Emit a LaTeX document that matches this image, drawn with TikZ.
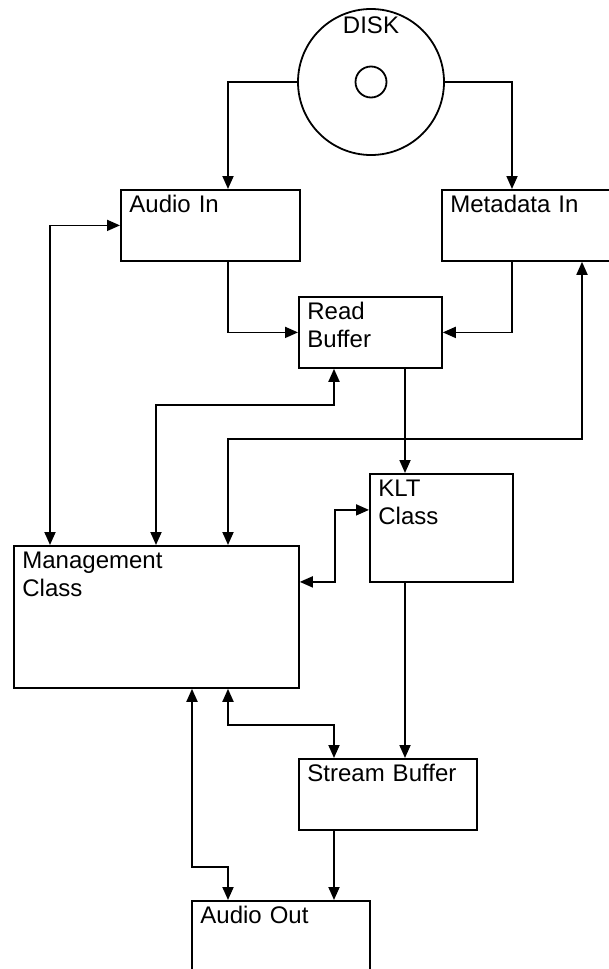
\documentclass[tikz,border=0pt]{standalone}
\usepackage{fontspec}
\setmainfont{Liberation Sans}
\usetikzlibrary{arrows.meta,positioning,calc}

\begin{document}
\begin{tikzpicture}[x=1pt, y=-1pt,
  block/.style={draw, line width=1.8pt, anchor=north west, inner xsep=8.5pt, inner ysep=0pt,
    align=left, text height=23pt, font=\fontsize{24}{28}\selectfont},
  arrow/.style={-{Triangle[length=13pt,width=11pt]}, line width=1.8pt},
  twoway/.style={{Triangle[length=13pt,width=11pt]}-{Triangle[length=13pt,width=11pt]}, line width=1.8pt}
]
  \useasboundingbox (0,0) rectangle (609,969);
  \clip (0,0) rectangle (609,969);

  % Disk
  \node[circle, draw, line width=1.8pt, inner sep=0pt, minimum size=146pt] (disk) at (371,82) {};
  \node[circle, draw, line width=1.8pt, inner sep=0pt, minimum size=31pt] (hole) at (disk.center) {};
  \node[anchor=base, font=\fontsize{24}{28}\selectfont] (disklabel) at (371,33) {DISK};

  % Blocks
  \node[block, text width=162pt, text depth=48pt] (audioin) at (120,189) {Audio In};
  \node[block, text width=162pt, text depth=48pt] (metadata) at (441,189) {Metadata In};
  \node[block, text width=126pt, text depth=48pt] (readbuf) at (298,296) {Read\\Buffer};
  \node[block, text width=126pt, text depth=85pt] (klt) at (369,473) {KLT\\Class};
  \node[block, text width=268pt, text depth=119pt] (mgmt) at (13,545) {Management\\Class};
  \node[block, text width=161pt, text depth=48pt] (stream) at (298,758) {Stream Buffer};
  \node[block, text width=161pt, text depth=100pt] (audioout) at (191,900) {Audio Out};

  % Data flow
  \draw[arrow] (disk.west) -| ([xshift=108pt]audioin.north west);
  \draw[arrow] (disk.east) -| ([xshift=71pt]metadata.north west);
  \draw[arrow] ([xshift=108pt]audioin.south west) |- (readbuf.west);
  \draw[arrow] ([xshift=71pt]metadata.south west) |- (readbuf.east);
  \draw[arrow] ([xshift=107pt]readbuf.south west) -- ([xshift=36pt]klt.north west);
  \draw[arrow] ([xshift=36pt]klt.south west) -- ([xshift=107pt]stream.north west);
  \draw[arrow] ([xshift=36pt]stream.south west) -- ([xshift=143pt]audioout.north west);

  % Control links to the management class
  \draw[twoway] (audioin.west) -| ([xshift=37pt]mgmt.north west);
  \draw[twoway] ([xshift=36pt]readbuf.south west) -- ++(0,36) -| ([xshift=143pt]mgmt.north west);
  \draw[twoway] ([xshift=141pt]metadata.south west) -- ++(0,177) -| ([xshift=215pt]mgmt.north west);
  \draw[twoway] ([yshift=35pt]mgmt.east) -- ++(35,0) |- ([yshift=18pt]klt.west);
  \draw[twoway] ([xshift=215pt]mgmt.south west) -- ++(0,36) -| ([xshift=36pt]stream.north west);
  \draw[twoway] ([xshift=179pt]mgmt.south west) -- ++(0,178) -| ([xshift=37pt]audioout.north west);
\end{tikzpicture}
\end{document}
